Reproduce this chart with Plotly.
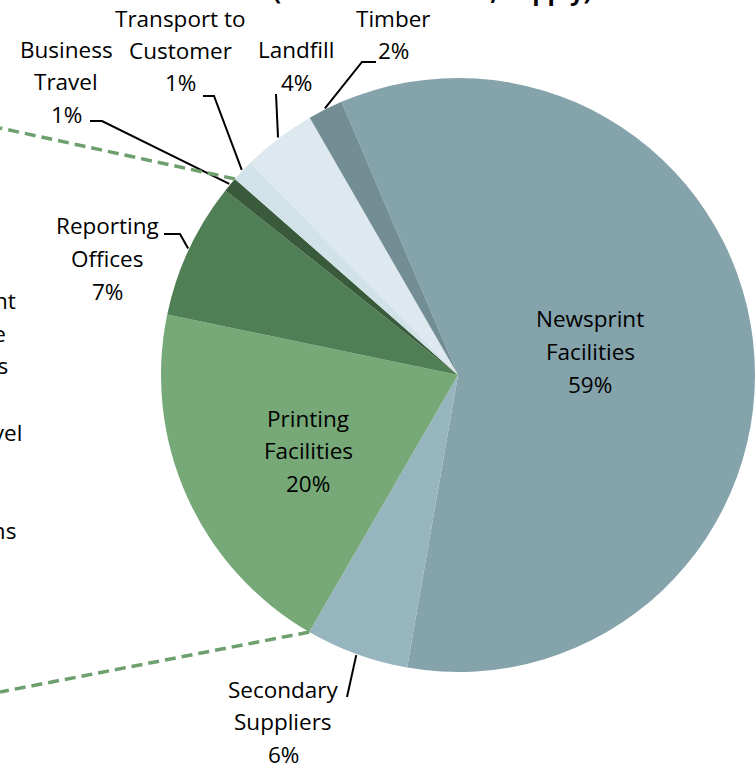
import math
import plotly.graph_objects as go

# ---------------- data ----------------
categories = ["Newsprint Facilities", "Secondary Suppliers", "Printing Facilities",
              "Reporting Offices", "Business Travel", "Transport to Customer",
              "Landfill", "Timber"]
label_lines = [["Newsprint", "Facilities"], ["Secondary", "Suppliers"],
               ["Printing", "Facilities"], ["Reporting", "Offices"],
               ["Business", "Travel"], ["Transport to", "Customer"],
               ["Landfill"], ["Timber"]]
values = [59.1, 5.6, 19.9, 7.4, 0.8, 1.2, 4.0, 1.9]
colors = ["#85A3AB", "#96B5BF", "#77A878", "#517F55",
          "#395B3B", "#D1E2E8", "#DDE9EE", "#738D94"]

# labels of the partly visible secondary breakdown (cut off at the left edge)
side_labels = ["Equipment", "Purchase", "Emissions", "Employee Travel", "Operations"]
title_text = "(Metric Tons CO2e, Supply)"

# ---------------- layout constants ----------------
W, H = 755, 768
CX, CY, R = 458, 375, 297
ROT = -23.1
FONT = "Open Sans"
FS = 22.5
LINE = 32.5

def px(x):
    return x / W

def py(y):
    return 1 - y / H

total = sum(values)
starts = []
acc = 0
for v in values:
    starts.append(ROT + 360 * acc / total)
    acc += v
ends = [s + 360 * v / total for s, v in zip(starts, values)]

def edge(a, r=R):
    a = math.radians(a)
    return CX + r * math.sin(a), CY - r * math.cos(a)

fig = go.Figure(go.Pie(
    labels=categories, values=values, sort=False, direction="clockwise",
    rotation=ROT, textinfo="none", hoverinfo="label+percent",
    marker=dict(colors=colors, line=dict(width=0)),
    domain=dict(x=[(CX - R) / W, (CX + R) / W], y=[py(CY + R), py(CY - R)]),
    showlegend=False,
))

# label placement: center x, y of first line (pixels), leader waypoints
place = {
    "Newsprint Facilities": (590, 319, None),
    "Printing Facilities": (308, 418, None),
    "Secondary Suppliers": (283, 689, [(347, 697)]),
    "Reporting Offices": (107, 226, [(164, 234), (180, 234)]),
    "Business Travel": (66, 49, [(90, 121), (102, 121)]),
    "Transport to Customer": (180, 18, [(203, 96), (214, 96)]),
    "Landfill": (296, 50, [(276, 94)]),
    "Timber": (393, 18, [(376, 62), (362, 62)]),
}

annotations = []
shapes = []
for i, cat in enumerate(categories):
    x0, y0, lead = place[cat]
    lines = label_lines[i] + [f"{round(values[i] / total * 100)}%"]
    for k, t in enumerate(lines):
        annotations.append(dict(
            x=px(x0), y=py(y0 + k * LINE), xref="paper", yref="paper",
            text=t, showarrow=False, xanchor="center", yanchor="middle",
            font=dict(family=FONT, size=FS, color="#000000")))
    if lead:
        mid = (starts[i] + ends[i]) / 2
        ax, ay = edge(mid, R + 1)
        pts = lead + [(ax, ay)]
        path = "M " + " L ".join(f"{px(a)} {py(b)}" for a, b in pts)
        shapes.append(dict(type="path", xref="paper", yref="paper", path=path,
                           line=dict(color="#000000", width=2)))

# dashed connector lines to the secondary breakdown
i_bt = categories.index("Business Travel")
i_pr = categories.index("Printing Facilities")
tx, ty = edge(ends[i_bt])
bx, by = edge(starts[i_pr])
for (sx, sy), (fx, fy) in [((tx, ty), (0, 128)), ((bx, by), (0, 692))]:
    shapes.append(dict(type="line", xref="paper", yref="paper",
                       x0=px(sx), y0=py(sy), x1=px(fx), y1=py(fy),
                       line=dict(color="#6E9F6E", width=3.5, dash="11px,6px")))

# partly visible labels at the left edge
side_pos = [(18, 300), (8, 333), (10, 365), (24, 432), (18, 530)]
for t, (x, y) in zip(side_labels, side_pos):
    annotations.append(dict(
        x=px(x), y=py(y), xref="paper", yref="paper", text=t, showarrow=False,
        xanchor="right", yanchor="middle",
        font=dict(family=FONT, size=FS, color="#000000")))

# title, mostly above the visible area
annotations.append(dict(
    x=px(432), y=py(9), xref="paper", yref="paper", text=f"<b>{title_text}</b>",
    showarrow=False, xanchor="center", yanchor="bottom",
    font=dict(family=FONT, size=24, color="#000000")))

fig.update_layout(
    width=W, height=H, margin=dict(l=0, r=0, t=0, b=0),
    paper_bgcolor="white", plot_bgcolor="white",
    annotations=annotations, shapes=shapes,
)
fig.write_html("out.html", config={"displayModeBar": False},
               post_script="document.body.style.margin='0';document.body.style.overflow='hidden';")
